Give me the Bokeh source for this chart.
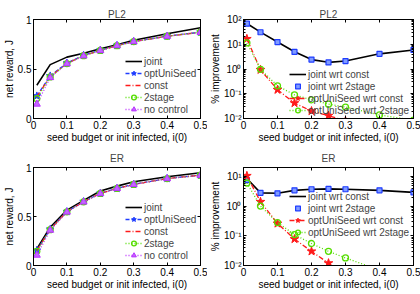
from bokeh.plotting import figure
from bokeh.models import (LinearAxis, LogAxis, FixedTicker, Legend, LegendItem, Range1d,
                          CustomJSTickFormatter)
from bokeh.layouts import gridplot
from bokeh.embed import file_html
from bokeh.resources import INLINE

# ---------------- data ----------------
budget = [0.01, 0.05, 0.1, 0.15, 0.2, 0.25, 0.3, 0.4, 0.5]

# PL2 net reward
pl2_joint = [0.336, 0.544, 0.620, 0.660, 0.705, 0.745, 0.790, 0.856, 0.916]
pl2_optuni = [0.228, 0.430, 0.560, 0.638, 0.690, 0.738, 0.778, 0.832, 0.872]
pl2_const = [0.220, 0.425, 0.555, 0.635, 0.688, 0.736, 0.777, 0.831, 0.871]
pl2_2stage = [0.200, 0.420, 0.555, 0.635, 0.688, 0.736, 0.777, 0.831, 0.871]
pl2_nocontrol = [0.145, 0.413, 0.553, 0.632, 0.686, 0.735, 0.776, 0.830, 0.870]

# ER net reward
er_joint = [0.170, 0.390, 0.565, 0.665, 0.760, 0.810, 0.855, 0.905, 0.946]
er_optuni = [0.155, 0.370, 0.550, 0.652, 0.736, 0.787, 0.828, 0.888, 0.922]
er_const = [0.152, 0.368, 0.549, 0.651, 0.735, 0.786, 0.827, 0.887, 0.921]
er_2stage = [0.145, 0.366, 0.548, 0.650, 0.735, 0.786, 0.827, 0.887, 0.921]
er_nocontrol = [0.105, 0.360, 0.545, 0.648, 0.733, 0.785, 0.826, 0.886, 0.920]

# PL2 % improvement
pl2_joint_const = [69, 31, 12.3, 5.0, 2.4, 1.86, 2.1, 4.1, 5.9]
pl2_joint_2stage = [68, 30.5, 12.2, 4.9, 2.4, 1.85, 2.1, 4.1, 5.9]
pl2_opt_const = [16.5, 0.93, 0.145, 0.042, 0.02, 0.013, 0.008, 0.003, 0.002]
pl2_opt_2stage = [11.3, 0.97, 0.21, 0.09, 0.057, 0.038, 0.029, 0.014, 0.0085]

# ER % improvement
er_joint_const = [8.5, 2.8, 2.7, 3.4, 3.7, 3.8, 3.7, 3.4, 2.9]
er_joint_2stage = [7.5, 2.8, 2.7, 3.4, 3.7, 3.8, 3.7, 3.4, 2.9]
er_opt_const = [10.5, 1.4, 0.26, 0.078, 0.03, 0.012, 0.005, 0.001, 0.0005]
er_opt_2stage = [6.0, 1.0, 0.28, 0.11, 0.055, 0.03, 0.018, 0.007, 0.003]

x_ticks = [0, 0.1, 0.2, 0.3, 0.4, 0.5]
x_tick_labels = ["0", "0.1", "0.2", "0.3", "0.4", "0.5"]
lin_y_ticks = [0, 0.5, 1]
lin_y_tick_labels = ["0", "0.5", "1"]
log_y_ticks = [0.01, 0.1, 1, 10, 100]
log_y_tick_labels = ["10\u207b\u00b2", "10\u207b\u00b9", "10\u2070", "10\u00b9", "10\u00b2"]

x_label = "seed budget or init infected, i(0)"

FONT = "Liberation Sans"
BLACK = "#000000"
BLUE = "#1f3dff"
RED = "#ff1a1a"
GREEN = "#55dd00"
MAGENTA = "#bb33ff"


def style_axis(ax, size="10px"):
    ax.major_label_text_font = FONT
    ax.major_label_text_font_size = size
    ax.major_label_text_color = "black"
    ax.axis_label_text_font = FONT
    ax.axis_label_text_font_size = "10px"
    ax.axis_label_text_font_style = "normal"
    ax.axis_label_text_color = "black"
    ax.major_tick_in = 3
    ax.major_tick_out = 0
    ax.minor_tick_out = 0
    ax.axis_line_color = "black"
    ax.major_tick_line_color = "black"
    ax.minor_tick_line_color = "black"


def minor_log(lo, hi):
    out = []
    d = lo
    while d < hi:
        for k in range(2, 10):
            out.append(d * k)
        d *= 10
    return out


def make_fig(title, w, h, bl, br, bt, bb, log, yr, ylabel, tstand):
    p = figure(width=w, height=h, x_range=Range1d(0, 0.5), y_range=Range1d(*yr),
               y_axis_type="log" if log else "linear",
               output_backend="svg", toolbar_location=None,
               min_border_left=bl, min_border_right=br,
               min_border_top=bt, min_border_bottom=bb, title=title)
    p.title.text_font = FONT
    p.title.text_font_size = "10px"
    p.title.text_font_style = "normal"
    p.title.align = "center"
    p.title.standoff = tstand
    p.title.offset = 0
    p.xgrid.visible = False
    p.ygrid.visible = False
    p.outline_line_color = "black"
    p.outline_line_alpha = 1
    p.background_fill_color = "white"
    p.border_fill_color = "white"

    xt = FixedTicker(ticks=x_ticks)
    p.xaxis.ticker = xt
    p.xaxis.major_label_overrides = {t: l for t, l in zip(x_ticks, x_tick_labels)}
    p.xaxis.axis_label = x_label
    for ax in p.xaxis:
        style_axis(ax)
        ax.major_label_standoff = 2
        ax.axis_label_standoff = 0

    if log:
        yt = FixedTicker(ticks=log_y_ticks, minor_ticks=minor_log(0.01, 100))
        overrides = {t: l for t, l in zip(log_y_ticks, log_y_tick_labels)}
    else:
        yt = FixedTicker(ticks=lin_y_ticks)
        overrides = {t: l for t, l in zip(lin_y_ticks, lin_y_tick_labels)}
    p.yaxis.ticker = yt
    p.yaxis.major_label_overrides = overrides
    p.yaxis.axis_label = ylabel
    for ax in p.yaxis:
        style_axis(ax)
        ax.major_label_standoff = 2
        ax.axis_label_standoff = 0
        if log:
            ax.minor_tick_in = 2

    # mirrored box ticks (no labels)
    blank = CustomJSTickFormatter(code="return ''")
    if log:
        ra = LogAxis(ticker=yt, formatter=blank)
    else:
        ra = LinearAxis(ticker=yt, formatter=blank)
    style_axis(ra, "1px")
    ra.major_label_standoff = 0
    if log:
        ra.minor_tick_in = 2
    p.add_layout(ra, "right")
    ta = LinearAxis(ticker=xt, formatter=blank)
    style_axis(ta, "1px")
    ta.major_label_standoff = 0
    p.add_layout(ta, "above")
    return p


def legend(p, items, x, y):
    lg = Legend(items=[LegendItem(label=l, renderers=r) for l, r in items],
                location=(x, y), orientation="vertical",
                label_text_font=FONT, label_text_font_size="10px",
                label_height=12, glyph_height=12, glyph_width=17,
                label_standoff=2, spacing=0, padding=0, margin=0,
                border_line_alpha=0, background_fill_alpha=0)
    p.add_layout(lg)


def reward_panel(title, w, h, bl, br, bt, bb, ts, joint, optuni, const, two, noc, lx, ly):
    p = make_fig(title, w, h, bl, br, bt, bb, False, (0, 1), "net reward, J", ts)
    r1 = p.line(budget, joint, line_color=BLACK, line_width=1.6)
    r2 = p.line(budget, optuni, line_color=BLUE, line_width=1.3, line_dash="4 2")
    r2m = p.scatter(budget, optuni, marker="star", size=8, fill_color=BLUE, line_color=BLUE)
    r3 = p.line(budget, const, line_color=RED, line_width=1.3, line_dash="5 2 1 2")
    r4 = p.line(budget, two, line_color=GREEN, line_width=1.3, line_dash="1 2")
    r4m = p.scatter(budget, two, marker="circle", size=6, fill_color=None,
                    line_color=GREEN, line_width=1.3)
    r5 = p.line(budget, noc, line_color=MAGENTA, line_width=1.3, line_dash="1 2")
    r5m = p.scatter(budget, noc, marker="triangle", size=7, fill_color="#c266ff",
                    line_color=MAGENTA)
    legend(p, [("joint", [r1]), ("optUniSeed", [r2, r2m]), ("const", [r3]),
               ("2stage", [r4, r4m]), ("no control", [r5, r5m])], lx, ly)
    return p


def improve_panel(title, w, h, bl, br, bt, bb, ts, yr, jc, j2, oc, o2, lx, ly):
    p = make_fig(title, w, h, bl, br, bt, bb, True, yr, "% improvement", ts)
    r1 = p.line(budget, jc, line_color=BLACK, line_width=1.6)
    r2 = p.scatter(budget, j2, marker="square", size=5, fill_color="#7f9bff",
                   line_color=BLUE, line_width=1.2)
    r3 = p.line(budget, oc, line_color=RED, line_width=1.3, line_dash="5 2 1 2")
    r3m = p.scatter(budget, oc, marker="star", size=9, fill_color=RED, line_color=RED)
    r4 = p.line(budget, o2, line_color=GREEN, line_width=1.3, line_dash="1 2")
    r4m = p.scatter(budget, o2, marker="circle", size=6, fill_color=None,
                    line_color=GREEN, line_width=1.3)
    legend(p, [("joint wrt const", [r1]), ("joint wrt 2stage", [r2]),
               ("optUniSeed wrt const", [r3, r3m]),
               ("optUniSeed wrt 2stage", [r4, r4m])], lx, ly)
    return p


W1, W2 = 207, 213
H1, H2 = 147, 147

p1 = reward_panel("PL2", W1, H1, 29, 7, 19, 29, 0,
                  pl2_joint, pl2_optuni, pl2_const, pl2_2stage, pl2_nocontrol, 92, 3)
p2 = improve_panel("PL2", W2, H1, 33, 7, 19, 29, 0, (0.01, 100),
                   pl2_joint_const, pl2_joint_2stage, pl2_opt_const, pl2_opt_2stage, 46, 2)
p3 = reward_panel("ER", W1, H2, 29, 7, 19, 29, 7,
                  er_joint, er_optuni, er_const, er_2stage, er_nocontrol, 92, 4)
p4 = improve_panel("ER", W2, H2, 33, 7, 19, 29, 7, (0.01, 20),
                   er_joint_const, er_joint_2stage, er_opt_const, er_opt_2stage, 46, 27)

grid = gridplot([[p1, p2], [p3, p4]], toolbar_location=None)

open("out.html", "w").write(file_html(grid, INLINE))
